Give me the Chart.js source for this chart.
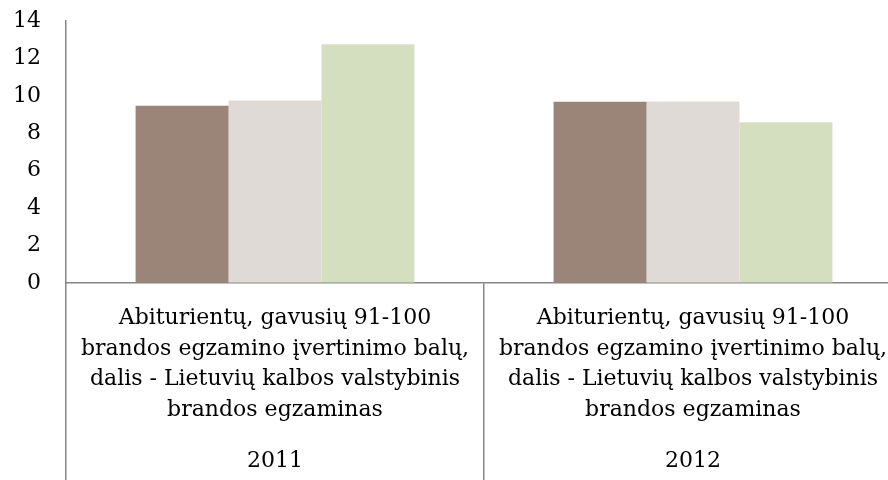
<!DOCTYPE html>
<html>
<head>
<meta charset="utf-8">
<script src="https://cdn.jsdelivr.net/npm/chart.js@4/dist/chart.umd.min.js"></script>
<style>
  html, body { margin: 0; padding: 0; overflow: hidden; background: #ffffff; width: 888px; height: 480px; }
  #wrap { width: 902px; height: 480px; }
</style>
</head>
<body>
<div id="wrap"><canvas id="c" width="902" height="480"></canvas></div>
<script>
const categoryLabel = ["Abiturientų, gavusių 91-100", "brandos egzamino įvertinimo balų,", "dalis - Lietuvių kalbos valstybinis", "brandos egzaminas"];
const categories = [categoryLabel, categoryLabel];
const years = ["2011", "2012"];
const series1 = [9.47, 9.68];
const series2 = [9.75, 9.70];
const series3 = [12.76, 8.59];
const yTicks = { min: 0, max: 14, step: 2 };

const FONT = "'DejaVu Serif', 'Liberation Serif', serif";
const AXIS = '#868686';

new Chart(document.getElementById('c'), {
  type: 'bar',
  data: {
    labels: categories,
    datasets: [
      { data: series1, backgroundColor: '#9b8579', borderWidth: 0 },
      { data: series2, backgroundColor: '#dfdad6', borderWidth: 0 },
      { data: series3, backgroundColor: '#d3dfbf', borderWidth: 0 }
    ]
  },
  options: {
    responsive: false,
    animation: false,
    layout: { padding: { top: 21, left: 0, right: 0, bottom: 0 } },
    plugins: { legend: { display: false }, tooltip: { enabled: false } },
    datasets: { bar: { categoryPercentage: 0.667, barPercentage: 1 } },
    scales: {
      y: {
        min: yTicks.min, max: yTicks.max,
        ticks: { stepSize: yTicks.step, color: '#000', padding: 0, font: { family: FONT, size: 22 } },
        grid: { display: true, drawOnChartArea: false, drawTicks: true, tickLength: 25, color: 'rgba(0,0,0,0)' },
        border: { display: true, color: AXIS, width: 1.5 },
        afterFit: s => { s.width = 66; }
      },
      x: {
        position: 'bottom',
        offset: true,
        ticks: { color: '#000', maxRotation: 0, minRotation: 0, autoSkip: false, padding: -140,
                 font: { family: FONT, size: 22, lineHeight: 1.39 } },
        grid: { offset: true, drawOnChartArea: false, drawTicks: true, tickLength: 160, color: AXIS, lineWidth: 1.5 },
        border: { display: true, color: AXIS, width: 1.5 },
        afterFit: s => { s.height = 160; }
      },
      x2: {
        type: 'category',
        labels: years,
        position: 'bottom',
        offset: true,
        ticks: { color: '#000', maxRotation: 0, minRotation: 0, autoSkip: false, padding: -31.5,
                 font: { family: FONT, size: 22, lineHeight: 1.2 } },
        grid: { offset: true, drawOnChartArea: false, drawTicks: true, tickLength: 37, color: AXIS, lineWidth: 1.5 },
        border: { display: false },
        afterFit: s => { s.height = 37; }
      }
    }
  }
});
</script>
</body>
</html>
